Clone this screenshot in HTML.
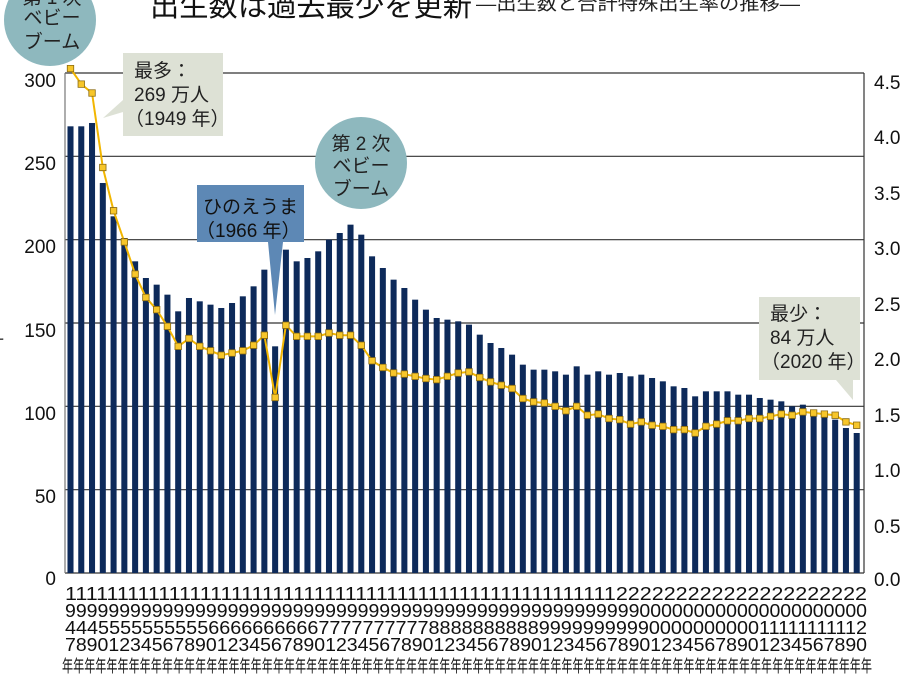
<!DOCTYPE html>
<html><head><meta charset="utf-8"><style>
html,body{margin:0;padding:0;background:#fff;}
svg{display:block;font-family:"Liberation Sans","Noto Sans CJK JP",sans-serif;}
</style></head><body>
<svg width="921" height="691" viewBox="0 0 921 691" xmlns="http://www.w3.org/2000/svg">
<rect width="921" height="691" fill="#fff"/>
<text x="150" y="16" font-size="29" fill="#111" textLength="322" lengthAdjust="spacingAndGlyphs">出生数は過去最少を更新</text>
<text x="476" y="10" font-size="18" fill="#222" textLength="324" lengthAdjust="spacingAndGlyphs">―出生数と合計特殊出生率の推移―</text>
<g stroke="#333" stroke-width="1.2">
<line x1="65" y1="73" x2="864" y2="73"/>
<line x1="65" y1="156.3" x2="864" y2="156.3"/>
<line x1="65" y1="239.7" x2="864" y2="239.7"/>
<line x1="65" y1="323" x2="864" y2="323"/>
<line x1="65" y1="406.3" x2="864" y2="406.3"/>
<line x1="65" y1="489.7" x2="864" y2="489.7"/>
<line x1="65" y1="573" x2="864" y2="573"/>
<line x1="65" y1="73" x2="65" y2="573" stroke="#777"/>
<line x1="864" y1="73" x2="864" y2="573"/>
</g>
<g font-size="19" fill="#111" text-anchor="end">
<text x="56" y="87">300</text><text x="56" y="170">250</text><text x="56" y="253">200</text>
<text x="56" y="337">150</text><text x="56" y="420">100</text><text x="56" y="503">50</text><text x="56" y="585">0</text>
</g>
<g font-size="19" fill="#111">
<text x="874" y="89">4.5</text><text x="874" y="144">4.0</text><text x="874" y="200">3.5</text>
<text x="874" y="255">3.0</text><text x="874" y="311">2.5</text><text x="874" y="366">2.0</text>
<text x="874" y="422">1.5</text><text x="874" y="477">1.0</text><text x="874" y="533">0.5</text><text x="874" y="586">0.0</text>
</g>
<text x="-4" y="345" font-size="16" fill="#333">ｰ</text>
<g transform="translate(70.5,573) scale(10.77,-1.6667)" fill="#0d2a5a">
<rect x="-.28" width=".56" height="268"/><rect x=".72" width=".56" height="268"/><rect x="1.72" width=".56" height="270"/><rect x="2.72" width=".56" height="234"/><rect x="3.72" width=".56" height="214"/><rect x="4.72" width=".56" height="201"/><rect x="5.72" width=".56" height="187"/><rect x="6.72" width=".56" height="177"/><rect x="7.72" width=".56" height="173"/><rect x="8.72" width=".56" height="167"/>
<rect x="9.72" width=".56" height="157"/><rect x="10.72" width=".56" height="165"/><rect x="11.72" width=".56" height="163"/><rect x="12.72" width=".56" height="161"/><rect x="13.72" width=".56" height="159"/><rect x="14.72" width=".56" height="162"/><rect x="15.72" width=".56" height="166"/><rect x="16.72" width=".56" height="172"/><rect x="17.72" width=".56" height="182"/><rect x="18.72" width=".56" height="136"/>
<rect x="19.72" width=".56" height="194"/><rect x="20.72" width=".56" height="187"/><rect x="21.72" width=".56" height="189"/><rect x="22.72" width=".56" height="193"/><rect x="23.72" width=".56" height="200"/><rect x="24.72" width=".56" height="204"/><rect x="25.72" width=".56" height="209"/><rect x="26.72" width=".56" height="203"/><rect x="27.72" width=".56" height="190"/><rect x="28.72" width=".56" height="183"/>
<rect x="29.72" width=".56" height="176"/><rect x="30.72" width=".56" height="171"/><rect x="31.72" width=".56" height="164"/><rect x="32.72" width=".56" height="158"/><rect x="33.72" width=".56" height="153"/><rect x="34.72" width=".56" height="152"/><rect x="35.72" width=".56" height="151"/><rect x="36.72" width=".56" height="149"/><rect x="37.72" width=".56" height="143"/><rect x="38.72" width=".56" height="138"/>
<rect x="39.72" width=".56" height="135"/><rect x="40.72" width=".56" height="131"/><rect x="41.72" width=".56" height="125"/><rect x="42.72" width=".56" height="122"/><rect x="43.72" width=".56" height="122"/><rect x="44.72" width=".56" height="121"/><rect x="45.72" width=".56" height="119"/><rect x="46.72" width=".56" height="124"/><rect x="47.72" width=".56" height="119"/><rect x="48.72" width=".56" height="121"/>
<rect x="49.72" width=".56" height="119"/><rect x="50.72" width=".56" height="120"/><rect x="51.72" width=".56" height="118"/><rect x="52.72" width=".56" height="119"/><rect x="53.72" width=".56" height="117"/><rect x="54.72" width=".56" height="115"/><rect x="55.72" width=".56" height="112"/><rect x="56.72" width=".56" height="111"/><rect x="57.72" width=".56" height="106"/><rect x="58.72" width=".56" height="109"/>
<rect x="59.72" width=".56" height="109"/><rect x="60.72" width=".56" height="109"/><rect x="61.72" width=".56" height="107"/><rect x="62.72" width=".56" height="107"/><rect x="63.72" width=".56" height="105"/><rect x="64.72" width=".56" height="104"/><rect x="65.72" width=".56" height="103"/><rect x="66.72" width=".56" height="100"/><rect x="67.72" width=".56" height="101"/><rect x="68.72" width=".56" height="98"/>
<rect x="69.72" width=".56" height="95"/><rect x="70.72" width=".56" height="92"/><rect x="71.72" width=".56" height="87"/><rect x="72.72" width=".56" height="84"/>
</g>
<g transform="translate(70.5,573) scale(10.77,-111.11)">
<polyline fill="none" stroke="#f2b600" stroke-width="2" vector-effect="non-scaling-stroke" points="0,4.54 1,4.40 2,4.32 3,3.65 4,3.26 5,2.98 6,2.69 7,2.48 8,2.37 9,2.22 10,2.04 11,2.11 12,2.04 13,2.00 14,1.96 15,1.98 16,2.00 17,2.05 18,2.14 19,1.58 20,2.23 21,2.13 22,2.13 23,2.13 24,2.16 25,2.14 26,2.14 27,2.05 28,1.91 29,1.85 30,1.80 31,1.79 32,1.77 33,1.75 34,1.74 35,1.77 36,1.80 37,1.81 38,1.76 39,1.72 40,1.69 41,1.66 42,1.57 43,1.54 44,1.53 45,1.50 46,1.46 47,1.50 48,1.42 49,1.43 50,1.39 51,1.38 52,1.34 53,1.36 54,1.33 55,1.32 56,1.29 57,1.29 58,1.26 59,1.32 60,1.34 61,1.37 62,1.37 63,1.39 64,1.39 65,1.41 66,1.43 67,1.42 68,1.45 69,1.44 70,1.43 71,1.42 72,1.36 73,1.33"/>
<g fill="#f7c62a" stroke="#8a6a10" stroke-width="0.8">
<rect x="-.3" y="4.511" width=".6" height=".058" vector-effect="non-scaling-stroke"/><rect x=".7" y="4.371" width=".6" height=".058" vector-effect="non-scaling-stroke"/><rect x="1.7" y="4.291" width=".6" height=".058" vector-effect="non-scaling-stroke"/><rect x="2.7" y="3.621" width=".6" height=".058" vector-effect="non-scaling-stroke"/><rect x="3.7" y="3.231" width=".6" height=".058" vector-effect="non-scaling-stroke"/><rect x="4.7" y="2.951" width=".6" height=".058" vector-effect="non-scaling-stroke"/><rect x="5.7" y="2.661" width=".6" height=".058" vector-effect="non-scaling-stroke"/><rect x="6.7" y="2.451" width=".6" height=".058" vector-effect="non-scaling-stroke"/><rect x="7.7" y="2.341" width=".6" height=".058" vector-effect="non-scaling-stroke"/><rect x="8.7" y="2.191" width=".6" height=".058" vector-effect="non-scaling-stroke"/>
<rect x="9.7" y="2.011" width=".6" height=".058" vector-effect="non-scaling-stroke"/><rect x="10.7" y="2.081" width=".6" height=".058" vector-effect="non-scaling-stroke"/><rect x="11.7" y="2.011" width=".6" height=".058" vector-effect="non-scaling-stroke"/><rect x="12.7" y="1.971" width=".6" height=".058" vector-effect="non-scaling-stroke"/><rect x="13.7" y="1.931" width=".6" height=".058" vector-effect="non-scaling-stroke"/><rect x="14.7" y="1.951" width=".6" height=".058" vector-effect="non-scaling-stroke"/><rect x="15.7" y="1.971" width=".6" height=".058" vector-effect="non-scaling-stroke"/><rect x="16.7" y="2.021" width=".6" height=".058" vector-effect="non-scaling-stroke"/><rect x="17.7" y="2.111" width=".6" height=".058" vector-effect="non-scaling-stroke"/><rect x="18.7" y="1.551" width=".6" height=".058" vector-effect="non-scaling-stroke"/>
<rect x="19.7" y="2.201" width=".6" height=".058" vector-effect="non-scaling-stroke"/><rect x="20.7" y="2.101" width=".6" height=".058" vector-effect="non-scaling-stroke"/><rect x="21.7" y="2.101" width=".6" height=".058" vector-effect="non-scaling-stroke"/><rect x="22.7" y="2.101" width=".6" height=".058" vector-effect="non-scaling-stroke"/><rect x="23.7" y="2.131" width=".6" height=".058" vector-effect="non-scaling-stroke"/><rect x="24.7" y="2.111" width=".6" height=".058" vector-effect="non-scaling-stroke"/><rect x="25.7" y="2.111" width=".6" height=".058" vector-effect="non-scaling-stroke"/><rect x="26.7" y="2.021" width=".6" height=".058" vector-effect="non-scaling-stroke"/><rect x="27.7" y="1.881" width=".6" height=".058" vector-effect="non-scaling-stroke"/><rect x="28.7" y="1.821" width=".6" height=".058" vector-effect="non-scaling-stroke"/>
<rect x="29.7" y="1.771" width=".6" height=".058" vector-effect="non-scaling-stroke"/><rect x="30.7" y="1.761" width=".6" height=".058" vector-effect="non-scaling-stroke"/><rect x="31.7" y="1.741" width=".6" height=".058" vector-effect="non-scaling-stroke"/><rect x="32.7" y="1.721" width=".6" height=".058" vector-effect="non-scaling-stroke"/><rect x="33.7" y="1.711" width=".6" height=".058" vector-effect="non-scaling-stroke"/><rect x="34.7" y="1.741" width=".6" height=".058" vector-effect="non-scaling-stroke"/><rect x="35.7" y="1.771" width=".6" height=".058" vector-effect="non-scaling-stroke"/><rect x="36.7" y="1.781" width=".6" height=".058" vector-effect="non-scaling-stroke"/><rect x="37.7" y="1.731" width=".6" height=".058" vector-effect="non-scaling-stroke"/><rect x="38.7" y="1.691" width=".6" height=".058" vector-effect="non-scaling-stroke"/>
<rect x="39.7" y="1.661" width=".6" height=".058" vector-effect="non-scaling-stroke"/><rect x="40.7" y="1.631" width=".6" height=".058" vector-effect="non-scaling-stroke"/><rect x="41.7" y="1.541" width=".6" height=".058" vector-effect="non-scaling-stroke"/><rect x="42.7" y="1.511" width=".6" height=".058" vector-effect="non-scaling-stroke"/><rect x="43.7" y="1.501" width=".6" height=".058" vector-effect="non-scaling-stroke"/><rect x="44.7" y="1.471" width=".6" height=".058" vector-effect="non-scaling-stroke"/><rect x="45.7" y="1.431" width=".6" height=".058" vector-effect="non-scaling-stroke"/><rect x="46.7" y="1.471" width=".6" height=".058" vector-effect="non-scaling-stroke"/><rect x="47.7" y="1.391" width=".6" height=".058" vector-effect="non-scaling-stroke"/><rect x="48.7" y="1.401" width=".6" height=".058" vector-effect="non-scaling-stroke"/>
<rect x="49.7" y="1.361" width=".6" height=".058" vector-effect="non-scaling-stroke"/><rect x="50.7" y="1.351" width=".6" height=".058" vector-effect="non-scaling-stroke"/><rect x="51.7" y="1.311" width=".6" height=".058" vector-effect="non-scaling-stroke"/><rect x="52.7" y="1.331" width=".6" height=".058" vector-effect="non-scaling-stroke"/><rect x="53.7" y="1.301" width=".6" height=".058" vector-effect="non-scaling-stroke"/><rect x="54.7" y="1.291" width=".6" height=".058" vector-effect="non-scaling-stroke"/><rect x="55.7" y="1.261" width=".6" height=".058" vector-effect="non-scaling-stroke"/><rect x="56.7" y="1.261" width=".6" height=".058" vector-effect="non-scaling-stroke"/><rect x="57.7" y="1.231" width=".6" height=".058" vector-effect="non-scaling-stroke"/><rect x="58.7" y="1.291" width=".6" height=".058" vector-effect="non-scaling-stroke"/>
<rect x="59.7" y="1.311" width=".6" height=".058" vector-effect="non-scaling-stroke"/><rect x="60.7" y="1.341" width=".6" height=".058" vector-effect="non-scaling-stroke"/><rect x="61.7" y="1.341" width=".6" height=".058" vector-effect="non-scaling-stroke"/><rect x="62.7" y="1.361" width=".6" height=".058" vector-effect="non-scaling-stroke"/><rect x="63.7" y="1.361" width=".6" height=".058" vector-effect="non-scaling-stroke"/><rect x="64.7" y="1.381" width=".6" height=".058" vector-effect="non-scaling-stroke"/><rect x="65.7" y="1.401" width=".6" height=".058" vector-effect="non-scaling-stroke"/><rect x="66.7" y="1.391" width=".6" height=".058" vector-effect="non-scaling-stroke"/><rect x="67.7" y="1.421" width=".6" height=".058" vector-effect="non-scaling-stroke"/><rect x="68.7" y="1.411" width=".6" height=".058" vector-effect="non-scaling-stroke"/>
<rect x="69.7" y="1.401" width=".6" height=".058" vector-effect="non-scaling-stroke"/><rect x="70.7" y="1.391" width=".6" height=".058" vector-effect="non-scaling-stroke"/><rect x="71.7" y="1.331" width=".6" height=".058" vector-effect="non-scaling-stroke"/><rect x="72.7" y="1.301" width=".6" height=".058" vector-effect="non-scaling-stroke"/>
</g>
</g>
<g font-size="18" fill="#111">
<text x="65" y="600" textLength="802" lengthAdjust="spacingAndGlyphs">11111111111111111111111111111111111111111111111111111222222222222222222222</text>
<text x="65" y="617" textLength="802" lengthAdjust="spacingAndGlyphs">99999999999999999999999999999999999999999999999999999000000000000000000000</text>
<text x="65" y="634" textLength="802" lengthAdjust="spacingAndGlyphs">44455555555556666666666777777777788888888889999999999000000000011111111112</text>
<text x="65" y="651" textLength="802" lengthAdjust="spacingAndGlyphs">78901234567890123456789012345678901234567890123456789012345678901234567890</text>
<text x="62" y="672" textLength="810" lengthAdjust="spacingAndGlyphs" font-size="17">年年年年年年年年年年年年年年年年年年年年年年年年年年年年年年年年年年年年年年年年年年年年年年年年年年年年年年年年年年年年年年年年年年年年年年年年年</text>
</g>
<circle cx="50" cy="20" r="46" fill="#8eb8be"/>
<g font-size="19" fill="#222" text-anchor="middle">
<text x="52" y="4">第 1 次</text><text x="52" y="24">ベビー</text><text x="52" y="48">ブーム</text>
</g>
<circle cx="361" cy="163" r="46" fill="#8eb8be"/>
<g font-size="19" fill="#222" text-anchor="middle">
<text x="361" y="150">第 2 次</text><text x="361" y="172">ベビー</text><text x="361" y="195">ブーム</text>
</g>
<polygon points="123,53 223,53 223,136 123,136 123,100 103,118 123,112" fill="#dde1d5"/>
<g font-size="19" fill="#222"><text x="134" y="77">最多：</text><text x="134" y="101">269 万人</text><text x="125" y="125">（1949 年）</text></g>
<polygon points="197,185 304,185 304,242 283,242 275,315 268,242 197,242" fill="#5d88b5"/>
<g font-size="19" fill="#111"><text x="203" y="213">ひのえうま</text><text x="196" y="237">（1966 年）</text></g>
<polygon points="759,297 860,297 860,380 853,380 853,400 836,380 759,380" fill="#dde1d5"/>
<g font-size="19" fill="#222"><text x="770" y="320">最少：</text><text x="770" y="344">84 万人</text><text x="761" y="368">（2020 年）</text></g>
</svg>
</body></html>
